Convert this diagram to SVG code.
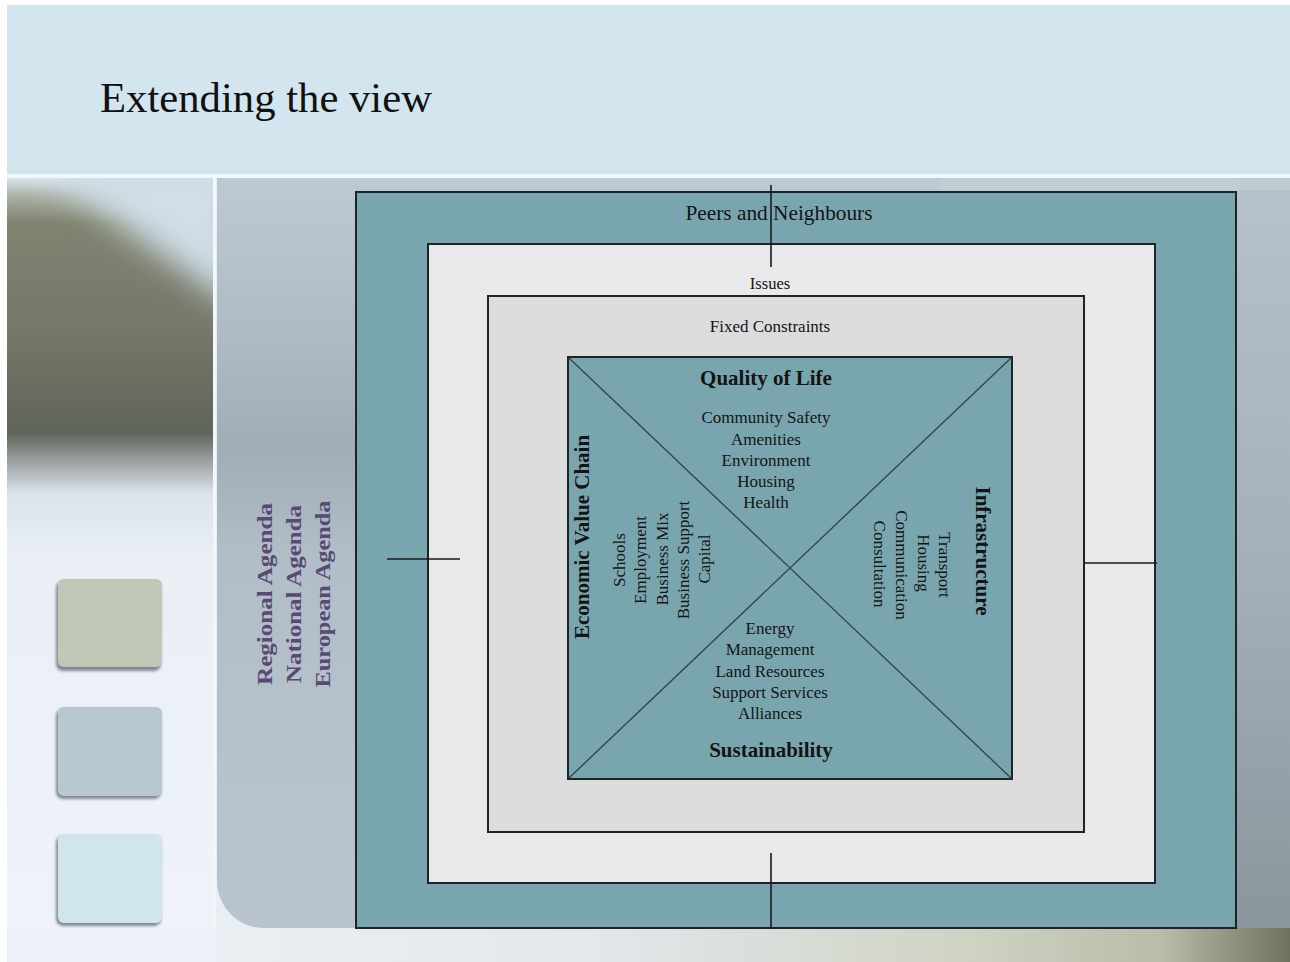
<svg xmlns="http://www.w3.org/2000/svg" width="1290" height="962" viewBox="0 0 1290 962">
  <defs>
    <linearGradient id="photoStrip" x1="0" y1="178" x2="0" y2="928" gradientUnits="userSpaceOnUse">
      <stop offset="0" stop-color="#d6e6ef"/>
      <stop offset="0.025" stop-color="#a9b0a4"/>
      <stop offset="0.06" stop-color="#80836f"/>
      <stop offset="0.2" stop-color="#75786a"/>
      <stop offset="0.34" stop-color="#60655a"/>
      <stop offset="0.375" stop-color="#979d9e"/>
      <stop offset="0.42" stop-color="#dbe2ea"/>
      <stop offset="0.5" stop-color="#eaeff6"/>
      <stop offset="1" stop-color="#eff3f9"/>
    </linearGradient>
    <linearGradient id="panelFill" x1="0" y1="178" x2="0" y2="928" gradientUnits="userSpaceOnUse">
      <stop offset="0" stop-color="#bccad3"/>
      <stop offset="0.2" stop-color="#b0bbc3"/>
      <stop offset="0.36" stop-color="#a1adb5"/>
      <stop offset="0.5" stop-color="#b1bdc7"/>
      <stop offset="1" stop-color="#b8c5ce"/>
    </linearGradient>
    <linearGradient id="rightStrip" x1="0" y1="178" x2="0" y2="928" gradientUnits="userSpaceOnUse">
      <stop offset="0" stop-color="#b4c2ca"/>
      <stop offset="0.5" stop-color="#a4b1b9"/>
      <stop offset="1" stop-color="#8a969c"/>
    </linearGradient>
    <linearGradient id="floorFill" x1="7" y1="0" x2="1290" y2="0" gradientUnits="userSpaceOnUse">
      <stop offset="0" stop-color="#eef2f8"/>
      <stop offset="0.45" stop-color="#e2e8ec"/>
      <stop offset="0.75" stop-color="#cfd3c4"/>
      <stop offset="0.9" stop-color="#b9bca6"/>
      <stop offset="1" stop-color="#6f715c"/>
    </linearGradient>
    <filter id="soft" x="-50%" y="-50%" width="200%" height="200%">
      <feGaussianBlur stdDeviation="16"/>
    </filter>
    <filter id="shade" x="-20%" y="-20%" width="140%" height="140%">
      <feGaussianBlur stdDeviation="1.5"/>
    </filter>
    <clipPath id="stripClip">
      <rect x="7" y="178" width="208" height="750"/>
    </clipPath>
    <style>
      .ring { stroke: #1c2426; stroke-width: 2; }
      .teal { fill: #79a6ae; }
      .light { fill: #e9e8ea; }
      .grey { fill: #dcdcdd; }
      .txt { font-family: 'Liberation Serif', 'Times New Roman', serif; fill: #141414; text-anchor: middle; }
      .item { font-size: 17px; }
      .head { font-size: 21px; font-weight: bold; }
      .agenda { font-family: 'Liberation Serif', 'Times New Roman', serif; font-size: 22px; font-weight: bold; fill: #574a74; text-anchor: middle; }
      .link { stroke: #1a1a1a; stroke-width: 1.6; fill: none; }
      .diag { stroke: #2a4a52; stroke-width: 1.4; fill: none; }
      .swatch-shadow { fill: #7f8a90; filter: url(#shade); }
    </style>
  </defs>

  <!-- slide background -->
  <rect x="0" y="0" width="1290" height="962" fill="#ffffff"/>
  <rect x="7" y="5" width="1283" height="169" fill="#d3e6ef"/>
  <rect x="7" y="174" width="1283" height="4" fill="#f2f7fa"/>

  <!-- lower area: floor band and photo strip -->
  <rect x="7" y="178" width="1283" height="784" fill="url(#floorFill)"/>
  <g clip-path="url(#stripClip)">
    <rect x="7" y="178" width="208" height="750" fill="url(#photoStrip)"/>
    <polygon points="30,160 240,160 240,310" fill="#d0dee7" filter="url(#soft)"/>
  </g>
  <rect x="7" y="928" width="210" height="34" fill="#eef2f8"/>

  <!-- content panel with rounded lower-left corner -->
  <path d="M217,178 H1290 V928 H264 A47,47 0 0 1 217,881 Z" fill="url(#panelFill)"/>
  <rect x="1237" y="178" width="53" height="750" fill="url(#rightStrip)"/>
  <rect x="213" y="178" width="3" height="750" fill="#f4f7fa"/>
  <rect x="940" y="178" width="350" height="12" fill="#c4d0d6" opacity="0.7"/>

  <!-- colour swatches -->
  <g id="swatches">
    <rect class="swatch-shadow" x="56" y="581" width="105" height="90" rx="7"/>
    <rect x="58" y="579" width="104" height="88" rx="6" fill="#c2c8b8"/>
    <rect class="swatch-shadow" x="56" y="709" width="105" height="90" rx="7"/>
    <rect x="58" y="707" width="104" height="89" rx="6" fill="#b8c8d1"/>
    <rect class="swatch-shadow" x="56" y="836" width="105" height="90" rx="7"/>
    <rect x="58" y="834" width="104" height="89" rx="6" fill="#d1e5ed"/>
  </g>

  <!-- title -->
  <text x="100" y="112" font-family="'Liberation Serif', 'Times New Roman', serif" font-size="42" fill="#111" textLength="332" lengthAdjust="spacingAndGlyphs">Extending the view</text>

  <!-- outer agendas -->
  <g id="agendas">
    <text class="agenda" transform="translate(272,594) rotate(-90)" textLength="182" lengthAdjust="spacingAndGlyphs">Regional Agenda</text>
    <text class="agenda" transform="translate(301,594) rotate(-90)" textLength="178" lengthAdjust="spacingAndGlyphs">National Agenda</text>
    <text class="agenda" transform="translate(330,594) rotate(-90)" textLength="187" lengthAdjust="spacingAndGlyphs">European Agenda</text>
  </g>

  <!-- nested rings -->
  <g id="peers">
    <rect class="ring teal" x="356" y="192" width="880" height="736"/>
    <text class="txt" x="779" y="220" font-size="21" textLength="187" lengthAdjust="spacingAndGlyphs">Peers and Neighbours</text>
  </g>
  <g id="issues">
    <rect class="ring light" x="428" y="244" width="727" height="639"/>
    <text class="txt" x="770" y="289" font-size="16.5">Issues</text>
  </g>
  <g id="constraints">
    <rect class="ring grey" x="488" y="296" width="596" height="536"/>
    <text class="txt" x="770" y="332" font-size="17">Fixed Constraints</text>
  </g>

  <!-- core square split by its diagonals -->
  <g id="core">
    <rect class="ring teal" x="568" y="357" width="444" height="422"/>
    <line class="diag" x1="569" y1="358" x2="1011" y2="778"/>
    <line class="diag" x1="1011" y1="358" x2="569" y2="778"/>
  </g>

  <g id="quality-of-life" class="txt">
    <text class="head" x="766" y="385">Quality of Life</text>
    <text class="item" x="766" y="423">Community Safety</text>
    <text class="item" x="766" y="445">Amenities</text>
    <text class="item" x="766" y="466">Environment</text>
    <text class="item" x="766" y="487">Housing</text>
    <text class="item" x="766" y="508">Health</text>
  </g>

  <g id="sustainability" class="txt">
    <text class="item" x="770" y="634">Energy</text>
    <text class="item" x="770" y="655">Management</text>
    <text class="item" x="770" y="677">Land Resources</text>
    <text class="item" x="770" y="698">Support Services</text>
    <text class="item" x="770" y="719">Alliances</text>
    <text class="head" x="771" y="757">Sustainability</text>
  </g>

  <g id="economic-value-chain" class="txt">
    <text class="head" transform="translate(589,537) rotate(-90)">Economic Value Chain</text>
    <text class="item" transform="translate(625,560) rotate(-90)">Schools</text>
    <text class="item" transform="translate(646,560) rotate(-90)">Employment</text>
    <text class="item" transform="translate(668,559) rotate(-90)">Business Mix</text>
    <text class="item" transform="translate(689,560) rotate(-90)">Business Support</text>
    <text class="item" transform="translate(710,559) rotate(-90)">Capital</text>
  </g>

  <g id="infrastructure" class="txt">
    <text class="head" transform="translate(976,551) rotate(90)">Infrastructure</text>
    <text class="item" transform="translate(939,565) rotate(90)">Transport</text>
    <text class="item" transform="translate(918,563) rotate(90)">Housing</text>
    <text class="item" transform="translate(896,565) rotate(90)">Communication</text>
    <text class="item" transform="translate(874,564) rotate(90)">Consultation</text>
  </g>

  <!-- tick connectors crossing the rings -->
  <g id="connectors">
    <line class="link" x1="771" y1="185" x2="771" y2="267"/>
    <line class="link" x1="771" y1="853" x2="771" y2="928"/>
    <line class="link" x1="387" y1="559" x2="460" y2="559"/>
    <line class="link" x1="1084" y1="563" x2="1157" y2="563"/>
  </g>
</svg>
